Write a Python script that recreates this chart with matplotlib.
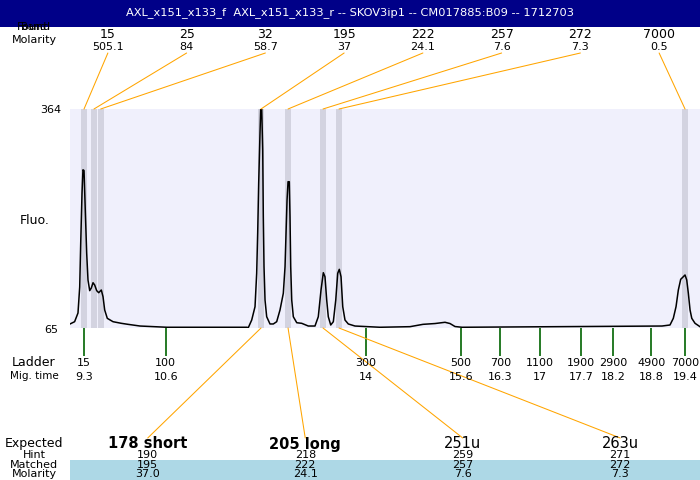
import matplotlib
matplotlib.use("Agg")
import matplotlib.pyplot as plt
from matplotlib.patches import Rectangle, ConnectionPatch
from matplotlib import transforms

# ---------------- data ----------------
title = "AXL_x151_x133_f  AXL_x151_x133_r -- SKOV3ip1 -- CM017885:B09 -- 1712703"

peak_sizes = ['15', '25', '32', '195', '222', '257', '272', '7000']
peak_molarity = ['505.1', '84', '58.7', '37', '24.1', '7.6', '7.3', '0.5']
peak_times = [9.259, 9.427, 9.541, 12.249, 12.706, 13.297, 13.567, 19.413]
band_width = 0.10

ladder_sizes = ['15', '100', '300', '500', '700', '1100', '1900', '2900', '4900', '7000']
ladder_times = [9.26, 10.64, 14.02, 15.63, 16.29, 16.96, 17.66, 18.20, 18.84, 19.41]
ladder_time_labels = ['9.3', '10.6', '14', '15.6', '16.3', '17', '17.7', '18.2', '18.8', '19.4']

expected = ['178 short', '205 long', '251u', '263u']
expected_bold = [True, True, False, False]
hint = ['190', '218', '259', '271']
matched = ['195', '222', '257', '272']
matched_molarity = ['37.0', '24.1', '7.6', '7.3']
matched_peak_index = [3, 4, 5, 6]

trace_time = [9.022, 9.10, 9.157, 9.186, 9.203, 9.225, 9.241, 9.259, 9.280, 9.304,
              9.326, 9.355, 9.382, 9.411, 9.439, 9.473, 9.507, 9.551, 9.580, 9.608,
              9.652, 9.749, 9.889, 10.002, 10.205, 10.661, 12.012, 12.034, 12.092, 12.148,
              12.176, 12.193, 12.210, 12.232, 12.244, 12.261, 12.278, 12.288, 12.300, 12.317,
              12.345, 12.401, 12.457, 12.514, 12.570, 12.626, 12.655, 12.672, 12.689, 12.706,
              12.727, 12.739, 12.751, 12.768, 12.795, 12.853, 12.937, 13.048, 13.161, 13.217,
              13.263, 13.302, 13.330, 13.359, 13.386, 13.427, 13.471, 13.512, 13.545, 13.572,
              13.601, 13.630, 13.668, 13.724, 13.837, 14.259, 14.766, 14.986, 15.189, 15.358,
              15.442, 15.527, 15.645, 19.024, 19.159, 19.215, 19.261, 19.300, 19.340, 19.384,
              19.413, 19.442, 19.469, 19.498, 19.527, 19.582, 19.666]
trace_fluo = [70.5, 73.6, 85.5, 121, 181, 249, 281, 280, 226, 167,
              130.5, 116, 119.6, 126.8, 123.7, 116, 113.2, 116.9, 107.7, 89.6,
              78.2, 73.6, 71.4, 70, 67.7, 66, 66, 65.4, 75.9, 94.1,
              139.7, 194.7, 263, 331, 364, 364, 308, 217, 148.7, 103.2,
              80.4, 70.5, 70.5, 73.6, 89.6, 112.4, 148.7, 194.7, 239.8, 264.7,
              264.7, 217, 148.7, 103.2, 80.4, 72.2, 71.4, 67.7, 67.7, 80.4,
              116.9, 140.5, 135, 103.2, 80.4, 69.1, 73.6, 103.2, 139.7, 145.1,
              135, 94.1, 75.9, 70.5, 67.7, 66, 66.8, 70, 71.1, 72.8,
              71.1, 67, 66, 67.7, 69.1, 78.2, 94.1, 116.9, 131.5, 135,
              137.4, 130.5, 112.4, 89.6, 78.2, 71.4, 66.8]

y_min, y_max = 65, 364
x_min, x_max = 9.022, 19.666

# ---------------- layout helpers ----------------
W, H = 700, 480
def fx(px):
    return px / W
def fy(py):
    return 1 - py / H

fig = plt.figure(figsize=(7, 4.8), dpi=100)
fig.patch.set_facecolor('white')

# title bar
fig.add_artist(Rectangle((0, fy(27)), 1, 27 / H, transform=fig.transFigure,
                         facecolor='#000088', edgecolor='none', zorder=0))
fig.text(fx(350), fy(12.5), title, color='white', fontsize=8.2,
         ha='center', va='center')

# main plot
ax = fig.add_axes([fx(70), fy(328), 630 / W, 219 / H])
ax.set_facecolor('#f0f0fc')
ax.set_xlim(x_min, x_max)
ax.set_ylim(y_min, y_max)
for s in ax.spines.values():
    s.set_visible(False)
ax.set_xticks([])
ax.set_yticks([])

for t in peak_times:
    ax.axvspan(t - band_width / 2, t + band_width / 2, color='#d3d3e0', lw=0, zorder=1)

ax.plot(trace_time, trace_fluo, color='black', lw=1.1, zorder=3)

# ladder ticks
ax.vlines(ladder_times, y_min - 38, y_min, color='#006400', lw=1.2, clip_on=False, zorder=2)
blend = transforms.blended_transform_factory(ax.transData, fig.transFigure)
for t, s, m in zip(ladder_times, ladder_sizes, ladder_time_labels):
    fig.text(t, fy(363), s, transform=blend, ha='center', va='center', fontsize=8)
    fig.text(t, fy(376.5), m, transform=blend, ha='center', va='center', fontsize=8)

# left labels
fig.text(fx(61), fy(110), str(y_max), ha='right', va='center', fontsize=8)
fig.text(fx(58), fy(330), str(y_min), ha='right', va='center', fontsize=8)
fig.text(fx(35), fy(221), 'Fluo.', ha='center', va='center', fontsize=9)
fig.text(fx(34), fy(363), 'Ladder', ha='center', va='center', fontsize=9)
fig.text(fx(34), fy(376), 'Mig. time', ha='center', va='center', fontsize=7.5)

# top found labels
fig.text(fx(34), fy(27.5), 'Found', ha='center', va='center', fontsize=8)
fig.text(fx(34), fy(27.5), 'Band', ha='center', va='center', fontsize=7)
fig.text(fx(34), fy(40), 'Molarity', ha='center', va='center', fontsize=8)

n_top = len(peak_sizes)
slot = 630 / n_top
for i, (s, m, t) in enumerate(zip(peak_sizes, peak_molarity, peak_times)):
    px = 70 + slot * (i + 0.5) - 1.5
    fig.text(fx(px), fy(34.5), s, ha='center', va='center', fontsize=9)
    fig.text(fx(px), fy(46.5), m, ha='center', va='center', fontsize=8)
    con = ConnectionPatch(xyA=(fx(px), fy(53)), coordsA=fig.transFigure,
                          xyB=(t, y_max), coordsB=ax.transData,
                          color='orange', lw=0.75)
    fig.add_artist(con)

# bottom table
fig.add_artist(Rectangle((fx(70), 0), 630 / W, 20 / H, transform=fig.transFigure,
                         facecolor='#add8e6', edgecolor='none', zorder=0))
fig.text(fx(34), fy(443), 'Expected', ha='center', va='center', fontsize=9)
fig.text(fx(34), fy(455), 'Hint', ha='center', va='center', fontsize=8)
fig.text(fx(34), fy(465), 'Matched', ha='center', va='center', fontsize=8)
fig.text(fx(34), fy(474), 'Molarity', ha='center', va='center', fontsize=8)

n_exp = len(expected)
slot_e = 630 / n_exp
for i in range(n_exp):
    px = 70 + slot_e * (i + 0.5) - 1
    fig.text(fx(px), fy(444), expected[i], ha='center', va='center', fontsize=10.5,
             fontweight='bold' if expected_bold[i] else 'normal')
    fig.text(fx(px), fy(455), hint[i], ha='center', va='center', fontsize=8)
    fig.text(fx(px), fy(465), matched[i], ha='center', va='center', fontsize=8)
    fig.text(fx(px), fy(474), matched_molarity[i], ha='center', va='center', fontsize=8)
    t = peak_times[matched_peak_index[i]]
    con = ConnectionPatch(xyA=(t, y_min), coordsA=ax.transData,
                          xyB=(fx(px), fy(438)), coordsB=fig.transFigure,
                          color='orange', lw=0.75)
    fig.add_artist(con)

fig.savefig('out.png', dpi=100)
